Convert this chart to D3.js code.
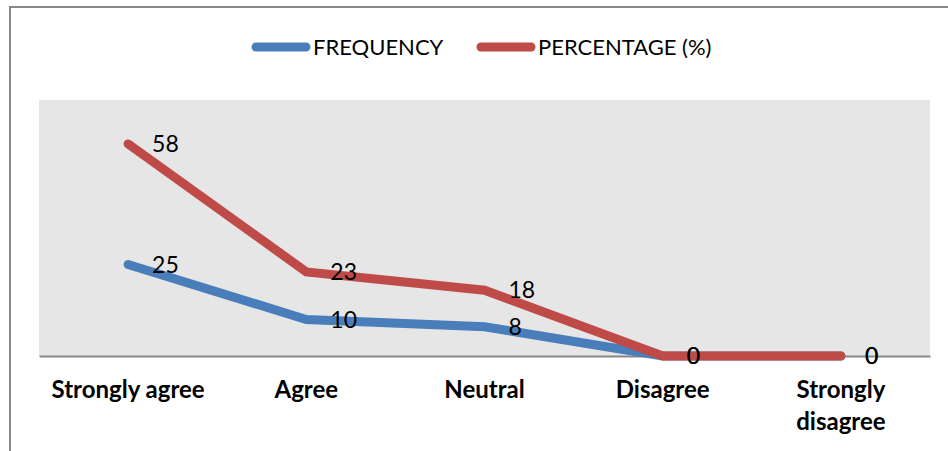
<!DOCTYPE html>
<html>
<head>
<meta charset="utf-8">
<script src="https://cdn.jsdelivr.net/npm/d3@7"></script>
<style>
  html, body { margin: 0; padding: 0; background: #fff; }
  svg { display: block; }
</style>
</head>
<body>
<div id="chart"></div>
<script>
// Survey responses by agreement level
const categories = ["Strongly agree", "Agree", "Neutral", "Disagree", "Strongly disagree"];
const frequency = [25, 10, 8, 0, 0];
const percentage = [58, 23, 18, 0, 0];
const seriesNames = ["FREQUENCY", "PERCENTAGE (%)"];
const seriesColors = ["#4a7ebb", "#be4b48"];

const W = 948, H = 451;
const plot = { left: 39, right: 930, top: 100, bottom: 356 };

const svg = d3.select("#chart").append("svg")
  .attr("width", W).attr("height", H);

// chart frame (left and top edges)
svg.append("path")
  .attr("d", `M10,${H} V7 H${W}`)
  .attr("fill", "none").attr("stroke", "#888").attr("stroke-width", 2);

// plot background
svg.append("rect")
  .attr("x", plot.left).attr("y", plot.top)
  .attr("width", plot.right - plot.left).attr("height", plot.bottom - plot.top)
  .attr("fill", "#e6e6e6");

const x = d3.scaleBand().domain(categories).range([plot.left, plot.right]);
const y = d3.scaleLinear().domain([0, 70]).range([plot.bottom, plot.top]);
const cx = c => x(c) + x.bandwidth() / 2;

// category axis
const xAxis = svg.append("g")
  .attr("transform", `translate(0,${plot.bottom})`)
  .call(d3.axisBottom(x).tickSize(0).tickPadding(0));
xAxis.select(".domain").attr("stroke", "#888").attr("stroke-width", 2);
xAxis.selectAll(".tick text").remove();
xAxis.selectAll(".tick").each(function(c) {
  const words = c === "Strongly disagree" ? ["Strongly", "disagree"] : [c];
  const t = d3.select(this).append("text")
    .attr("text-anchor", "middle")
    .attr("fill", "#000")
    .style("font-family", "Lato, 'Open Sans', sans-serif")
    .style("font-weight", "bold")
    .style("font-size", "24px");
  words.forEach((w, i) => {
    t.append("tspan").attr("x", 0).attr("y", 42 + i * 32).text(w);
  });
});

const series = [
  { name: seriesNames[0], color: seriesColors[0], values: frequency },
  { name: seriesNames[1], color: seriesColors[1], values: percentage }
];

const line = d3.line()
  .x((d, i) => cx(categories[i]))
  .y(d => y(d));

svg.append("g").selectAll("path")
  .data(series)
  .join("path")
  .attr("d", s => line(s.values))
  .attr("fill", "none")
  .attr("stroke", s => s.color)
  .attr("stroke-width", 9)
  .attr("stroke-linecap", "round")
  .attr("stroke-linejoin", "miter");

// value labels to the right of each point
series.forEach(s => {
  svg.append("g").selectAll("text")
    .data(s.values)
    .join("text")
    .attr("x", (d, i) => cx(categories[i]) + 24)
    .attr("y", d => y(d))
    .attr("dy", "0.36em")
    .attr("fill", "#000")
    .style("font-family", "Lato, 'Open Sans', sans-serif")
    .style("font-size", "23px")
    .text(d => d);
});

// legend
const legendItems = [
  { x0: 252, x1: 310, tx: 313 },
  { x0: 477, x1: 535, tx: 538 }
];
const legend = svg.append("g");
series.forEach((s, i) => {
  const li = legendItems[i];
  legend.append("line")
    .attr("x1", li.x0 + 4).attr("x2", li.x1 - 4)
    .attr("y1", 47).attr("y2", 47)
    .attr("stroke", s.color).attr("stroke-width", 9)
    .attr("stroke-linecap", "round");
  legend.append("text")
    .attr("x", li.tx).attr("y", 47).attr("dy", "0.36em")
    .attr("fill", "#000")
    .style("font-family", "Lato, 'Open Sans', sans-serif")
    .style("font-size", "22px")
    .text(s.name);
});
</script>
</body>
</html>
